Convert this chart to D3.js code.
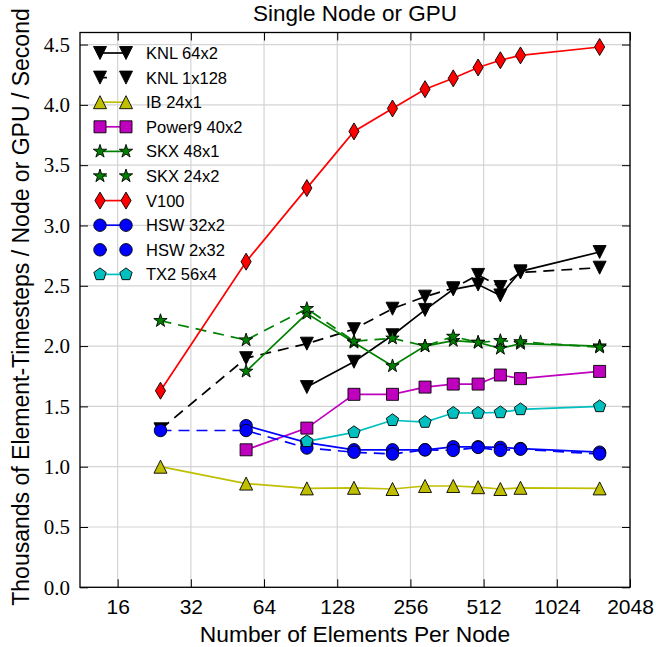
<!DOCTYPE html>
<html>
<head>
<meta charset="utf-8">
<script src="https://cdn.jsdelivr.net/npm/d3@7"></script>
<style>
  html, body { margin: 0; padding: 0; background: #fff; }
  svg { display: block; }
</style>
</head>
<body>
<svg id="chart" width="656" height="647"></svg>
<script>
// Elements per node (x positions) shared by every series
const elements = [24, 54, 96, 150, 216, 294, 384, 486, 600, 726, 1536];

// Throughput, thousands of element-timesteps per node (or GPU) per second
const knl64x2  = [null, null, 1.66, 1.87, 2.09, 2.30, 2.47, 2.51, 2.42, 2.62, 2.78];
const knl1x128 = [1.31, 1.90, 2.02, 2.14, 2.31, 2.41, 2.48, 2.59, 2.49, 2.61, 2.65];
const ib24x1   = [1.00, 0.86, 0.82, 0.825, 0.815, 0.84, 0.84, 0.83, 0.815, 0.825, 0.82];
const power9   = [null, 1.14, 1.32, 1.60, 1.60, 1.66, 1.685, 1.685, 1.76, 1.73, 1.79];
const skx48x1  = [null, 1.79, 2.27, 2.03, 1.835, 2.00, 2.045, 2.03, 1.98, 2.02, 2.00];
const skx24x2  = [2.21, 2.05, 2.31, 2.04, 2.065, 2.00, 2.08, 2.03, 2.045, 2.035, 1.99];
const v100     = [1.63, 2.70, 3.31, 3.78, 3.97, 4.13, 4.22, 4.31, 4.37, 4.41, 4.48];
const hsw32x2  = [null, 1.34, 1.20, 1.14, 1.14, 1.14, 1.165, 1.165, 1.16, 1.15, 1.12];
const hsw2x32  = [1.30, 1.30, 1.155, 1.12, 1.105, 1.14, 1.135, 1.16, 1.135, 1.145, 1.105];
const tx2      = [null, null, 1.21, 1.285, 1.385, 1.37, 1.445, 1.445, 1.45, 1.475, 1.50];

// Axis ticks
const xTicks = [16, 32, 64, 128, 256, 512, 1024, 2048];
const yTicks = [0, 0.5, 1.0, 1.5, 2.0, 2.5, 3.0, 3.5, 4.0, 4.5];

// Series drawing order (later ones sit on top)
const seriesNames = ["KNL 64x2", "KNL 1x128", "IB 24x1", "Power9 40x2", "SKX 48x1",
                     "SKX 24x2", "V100", "HSW 32x2", "HSW 2x32", "TX2 56x4"];
const seriesValues = [knl64x2, knl1x128, ib24x1, power9, skx48x1,
                      skx24x2, v100, hsw32x2, hsw2x32, tx2];
const seriesColors = ["#000000", "#000000", "#bfbf00", "#bf00bf", "#008000",
                      "#008000", "#ff0000", "#0000ff", "#0000ff", "#00bfbf"];
const seriesMarkers = ["tri-down", "tri-down", "tri-up", "square", "star",
                       "star", "thin-diamond", "circle", "circle", "pentagon"];
const seriesDashed = [false, true, false, false, false, true, false, false, true, false];

const svg = d3.select("#chart");
const plot = { left: 80, right: 630, top: 32.5, bottom: 587.3 };

const x = d3.scaleLog().base(2).domain([11.2, 2048]).range([plot.left, plot.right]);
const y = d3.scaleLinear().domain([0, 4.6]).range([plot.bottom, plot.top]);

const SANS = "'Liberation Sans', Arial, Helvetica, sans-serif";
const SERIF = "'Liberation Serif', 'Times New Roman', serif";

// Marker outlines, centred on the origin, ms = marker size in px
function markerPath(type, ms) {
  const r = ms / 2;
  const pts = [];
  switch (type) {
    case "tri-down":
      return `M0,${r}L${-r},${-r}L${r},${-r}Z`;
    case "tri-up":
      return `M0,${-r}L${-r},${r}L${r},${r}Z`;
    case "square":
      return `M${-r},${-r}H${r}V${r}H${-r}Z`;
    case "thin-diamond": {
      const hw = 0.6 * r * Math.SQRT2, hh = r * Math.SQRT2;
      return `M0,${-hh}L${hw},0L0,${hh}L${-hw},0Z`;
    }
    case "circle":
      return `M${r},0A${r},${r} 0 1,1 ${-r},0A${r},${r} 0 1,1 ${r},0Z`;
    case "pentagon":
      for (let i = 0; i < 5; i++) {
        const a = -Math.PI / 2 + i * 2 * Math.PI / 5;
        pts.push([r * Math.cos(a), r * Math.sin(a)]);
      }
      return "M" + pts.map(p => p.join(",")).join("L") + "Z";
    case "star": {
      const ri = r * 0.381966;
      for (let i = 0; i < 10; i++) {
        const a = -Math.PI / 2 + i * Math.PI / 5;
        const rr = i % 2 === 0 ? r : ri;
        pts.push([rr * Math.cos(a), rr * Math.sin(a)]);
      }
      return "M" + pts.map(p => p.join(",")).join("L") + "Z";
    }
  }
}
const markerSize = { "tri-down": 13, "tri-up": 13, "square": 12, "thin-diamond": 12,
                     "circle": 12.5, "pentagon": 13, "star": 14 };

// Grid
const grid = svg.append("g").attr("class", "grid");
grid.selectAll("line.gx").data(xTicks).join("line")
  .attr("x1", d => x(d)).attr("x2", d => x(d))
  .attr("y1", plot.top).attr("y2", plot.bottom)
  .attr("stroke", "#d4d4d4").attr("stroke-width", 1.2);
grid.selectAll("line.gy").data(yTicks).join("line")
  .attr("y1", d => y(d)).attr("y2", d => y(d))
  .attr("x1", plot.left).attr("x2", plot.right)
  .attr("stroke", "#d4d4d4").attr("stroke-width", 1.2);

const seriesG = svg.append("g");
const line = d3.line()
  .defined(d => d.v !== null)
  .x(d => x(d.e)).y(d => y(d.v));

seriesNames.forEach((name, i) => {
  const data = elements.map((e, j) => ({ e, v: seriesValues[i][j] }));
  const g = seriesG.append("g").attr("class", "series");
  g.append("path")
    .datum(data)
    .attr("d", line)
    .attr("fill", "none")
    .attr("stroke", seriesColors[i])
    .attr("stroke-width", 1.7)
    .attr("stroke-dasharray", seriesDashed[i] ? "11,7" : null);
  const ms = markerSize[seriesMarkers[i]];
  g.selectAll("path.mk").data(data.filter(d => d.v !== null)).join("path")
    .attr("class", "mk")
    .attr("transform", d => `translate(${x(d.e)},${y(d.v)})`)
    .attr("d", markerPath(seriesMarkers[i], ms))
    .attr("fill", seriesColors[i])
    .attr("stroke", "#000")
    .attr("stroke-width", 0.9);
});

// Frame
svg.append("rect")
  .attr("x", plot.left).attr("y", plot.top)
  .attr("width", plot.right - plot.left).attr("height", plot.bottom - plot.top)
  .attr("fill", "none").attr("stroke", "#000").attr("stroke-width", 1.3);

// Inward ticks on all four sides
const TL = 8;
const bottomAxis = d3.axisBottom(x).tickValues(xTicks).tickFormat(d => d)
  .tickSizeInner(-TL).tickSizeOuter(0).tickPadding(12);
const topAxis = d3.axisTop(x).tickValues(xTicks).tickFormat("")
  .tickSizeInner(-TL).tickSizeOuter(0);
const leftAxis = d3.axisLeft(y).tickValues(yTicks).tickFormat(d3.format(".1f"))
  .tickSizeInner(-TL).tickSizeOuter(0).tickPadding(10);
const rightAxis = d3.axisRight(y).tickValues(yTicks).tickFormat("")
  .tickSizeInner(-TL).tickSizeOuter(0);

function styleAxis(g) {
  g.select(".domain").remove();
  g.selectAll(".tick line").attr("stroke", "#000").attr("stroke-width", 1);
}
svg.append("g").attr("transform", `translate(0,${plot.bottom})`).call(bottomAxis).call(styleAxis)
  .selectAll("text").attr("font-family", SANS).attr("font-size", 21).attr("fill", "#000");
svg.append("g").attr("transform", `translate(0,${plot.top})`).call(topAxis).call(styleAxis);
svg.append("g").attr("transform", `translate(${plot.left},0)`).call(leftAxis).call(styleAxis)
  .selectAll("text").attr("font-family", SERIF).attr("font-size", 21).attr("fill", "#000");
svg.append("g").attr("transform", `translate(${plot.right},0)`).call(rightAxis).call(styleAxis);

// Titles
svg.append("text")
  .attr("x", (plot.left + plot.right) / 2).attr("y", 21)
  .attr("text-anchor", "middle").attr("font-family", SANS).attr("font-size", 22.5)
  .text("Single Node or GPU");
svg.append("text")
  .attr("x", (plot.left + plot.right) / 2).attr("y", 642)
  .attr("text-anchor", "middle").attr("font-family", SANS).attr("font-size", 22.8)
  .text("Number of Elements Per Node");
svg.append("text")
  .attr("transform", `translate(29,307) rotate(-90)`)
  .attr("text-anchor", "middle").attr("font-family", SANS).attr("font-size", 23)
  .text("Thousands of Element-Timesteps / Node or GPU / Second");

// Legend (no frame)
const legend = svg.append("g").attr("class", "legend");
seriesNames.forEach((name, i) => {
  const ly = 53 + i * 24.6;
  const g = legend.append("g").attr("transform", `translate(0,${ly})`);
  g.append("line").attr("x1", 100).attr("x2", 126).attr("y1", 0).attr("y2", 0)
    .attr("stroke", seriesColors[i]).attr("stroke-width", 1.7)
    .attr("stroke-dasharray", seriesDashed[i] ? "7,20" : null);
  const ms = markerSize[seriesMarkers[i]];
  [100, 126].forEach(mx => {
    g.append("path").attr("transform", `translate(${mx},0)`)
      .attr("d", markerPath(seriesMarkers[i], ms))
      .attr("fill", seriesColors[i]).attr("stroke", "#000").attr("stroke-width", 0.9);
  });
  g.append("text").attr("x", 146).attr("y", 6)
    .attr("font-family", SANS).attr("font-size", 16.5).text(name);
});
</script>
</body>
</html>
